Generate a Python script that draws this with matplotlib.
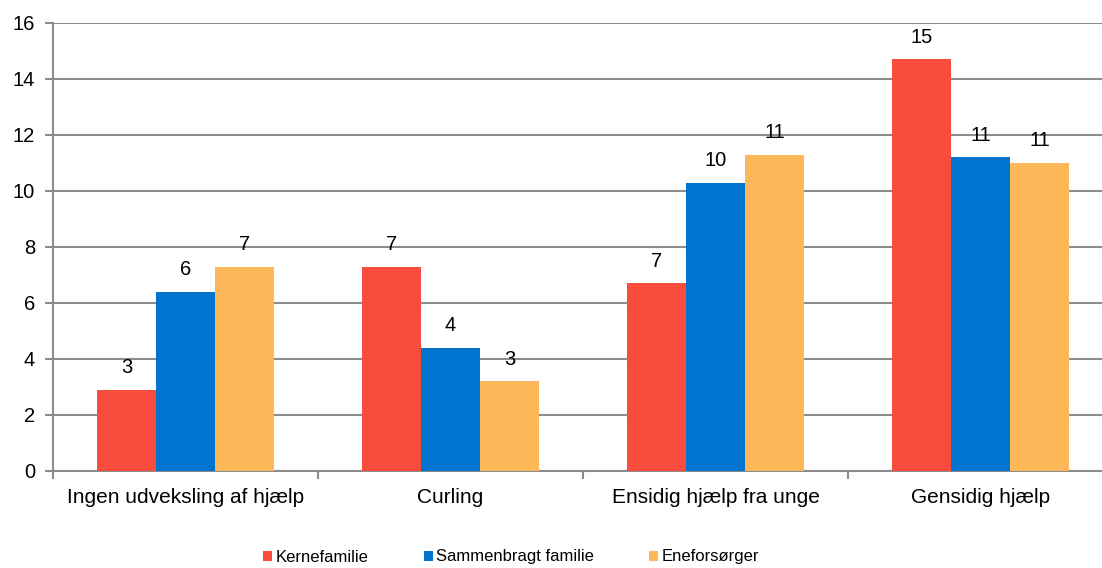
import numpy as np
import matplotlib.pyplot as plt
from matplotlib.patches import Patch

plt.rcParams['font.family'] = ['Liberation Sans', 'DejaVu Sans']

categories = ['Ingen udveksling af hjælp', 'Curling', 'Ensidig hjælp fra unge', 'Gensidig hjælp']
series = ['Kernefamilie', 'Sammenbragt familie', 'Eneforsørger']
kerne = [2.9, 7.3, 6.7, 14.7]
sammen = [6.4, 4.4, 10.3, 11.2]
enefor = [7.3, 3.2, 11.3, 11.0]
labels_kerne = ['3', '7', '7', '15']
labels_sammen = ['6', '4', '10', '11']
labels_enefor = ['7', '3', '11', '11']
colors = ['#F84C3C', '#0074CE', '#FFB859']

W, H = 1102, 568
fig = plt.figure(figsize=(W / 100, H / 100), dpi=100)
ax = fig.add_axes([53 / W, 1 - 471 / H, 1060 / W, 448 / H])

x = np.arange(len(categories))
bw = 0.223
grid_c = '#8C8C8C'
for i, (vals, labs) in enumerate(zip([kerne, sammen, enefor],
                                     [labels_kerne, labels_sammen, labels_enefor])):
    bars = ax.bar(x + (i - 1) * bw, vals, width=bw, color=colors[i], zorder=3)
    for b, lab in zip(bars, labs):
        ax.annotate(lab, (b.get_x() + b.get_width() / 2, b.get_height()),
                    xytext=(0, 16), textcoords='offset points',
                    ha='center', va='center', fontsize=14.5, color='black')

ax.set_xlim(-0.5, 3.5)
ax.set_ylim(0, 16)
ax.set_yticks(np.arange(0, 17, 2))
ax.yaxis.grid(True, color=grid_c, linewidth=1.5, zorder=0)
ax.set_axisbelow(True)

ax.set_xticks(x)
ax.set_xticklabels(categories, fontsize=15)
ax.tick_params(axis='x', which='major', length=0, pad=12)
ax.set_xticks(np.arange(-0.5, 4, 1), minor=True)
ax.tick_params(axis='x', which='minor', length=6, width=1.5, color=grid_c)
ax.tick_params(axis='y', length=6, width=1.5, color=grid_c, labelsize=14.5, pad=7)

for s in ['top', 'right']:
    ax.spines[s].set_visible(False)
for s in ['left', 'bottom']:
    ax.spines[s].set_color(grid_c)
    ax.spines[s].set_linewidth(1.5)

handles = [Patch(facecolor=c, edgecolor='none') for c in colors]
fig.legend(handles, series, loc='center', bbox_to_anchor=(511 / W, 1 - 557 / H),
           ncol=3, frameon=False, fontsize=12, handlelength=0.55, handleheight=0.55,
           handletextpad=0.2, columnspacing=3.3)

fig.savefig('out.png', dpi=100)
